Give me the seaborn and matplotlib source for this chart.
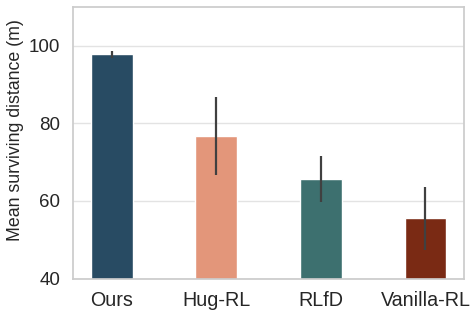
import pandas as pd
import matplotlib
matplotlib.use("Agg")
import matplotlib.pyplot as plt
import seaborn as sns

# data
methods = ["Ours", "Hug-RL", "RLfD", "Vanilla-RL"]
mean_dist = [97.8, 76.7, 65.6, 55.5]
err_dist = [0.9, 10.0, 5.9, 8.2]
bar_colors = ["#284b63", "#e3967a", "#3d706f", "#7a2a14"]

df = pd.DataFrame({"method": methods, "dist": mean_dist})

sns.set_theme(style="whitegrid")
plt.rcParams["font.family"] = ["Liberation Sans", "DejaVu Sans"]

fig, ax = plt.subplots(figsize=(4.77, 3.14), dpi=100)

sns.barplot(data=df, x="method", y="dist", hue="method", palette=bar_colors,
            width=0.4, legend=False, errorbar=None, ax=ax, saturation=1)
ax.errorbar(range(len(methods)), mean_dist, yerr=err_dist, fmt="none",
            ecolor="#404040", elinewidth=1.6, capsize=0)

ax.set_ylim(40, 110)
ax.set_xlim(-0.37, 3.37)
ax.set_yticks([40, 60, 80, 100])
ax.set_xlabel("")
ax.set_ylabel("Mean surviving distance (m)", fontsize=12.8)
ax.yaxis.set_label_coords(-0.124, 0.545)
ax.tick_params(axis="x", labelsize=14.2, pad=3)
ax.tick_params(axis="y", labelsize=13.5, pad=3)
ax.grid(axis="x", visible=False)
ax.grid(axis="y", color="#e3e3e3")
for s in ax.spines.values():
    s.set_color("#cccccc")

plt.subplots_adjust(left=0.153, right=0.973, top=0.978, bottom=0.113)
plt.savefig("out.png", dpi=100)
